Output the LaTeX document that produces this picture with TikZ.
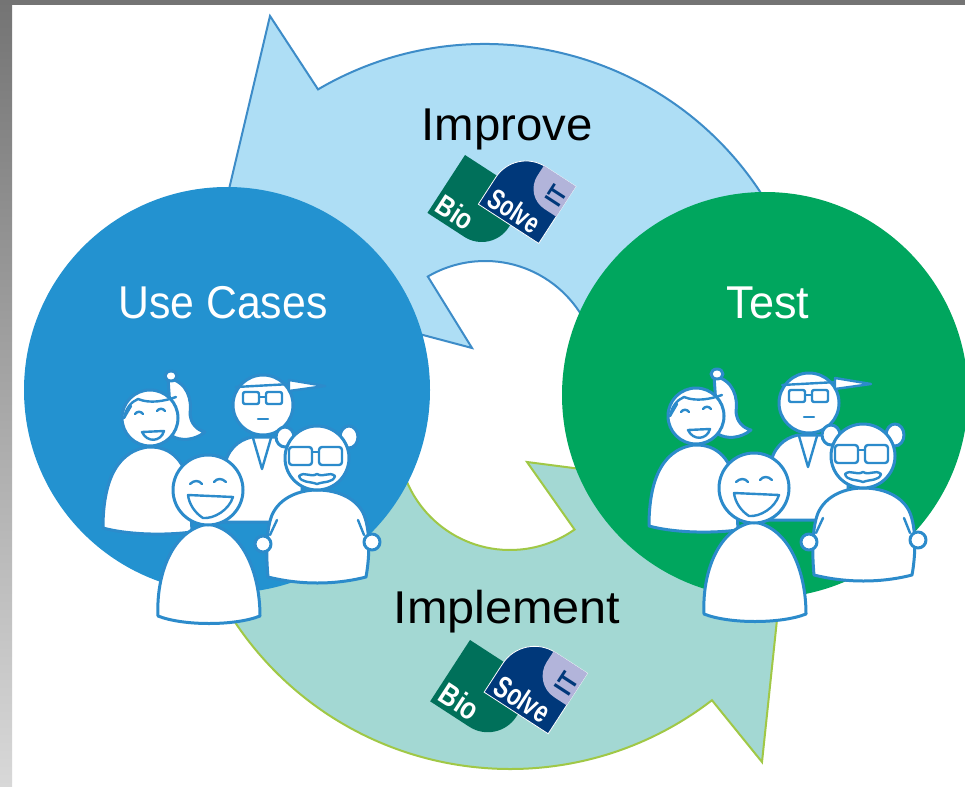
\documentclass[tikz,border=0pt]{standalone}
\usepackage{fontspec}
\setmainfont{Liberation Sans}
\usetikzlibrary{calc}

\definecolor{frameDark}{HTML}{747474}
\definecolor{frameMid}{HTML}{C4C4C4}
\definecolor{frameLight}{HTML}{D8D8D8}
\definecolor{improveFill}{HTML}{AEDEF5}
\definecolor{improveLine}{HTML}{3D8CC8}
\definecolor{implementFill}{HTML}{A3D8D3}
\definecolor{implementLine}{HTML}{A0C846}
\definecolor{useBlue}{HTML}{2392D0}
\definecolor{testGreen}{HTML}{00A65E}
\definecolor{peopleLine}{HTML}{2C8BCB}
\definecolor{bioGreen}{HTML}{00705A}
\definecolor{solveNavy}{HTML}{00387A}
\definecolor{itLilac}{HTML}{B2B4DA}

\tikzset{
  person/.style={draw=peopleLine, fill=white, line width=3pt, line join=round},
  feature/.style={draw=peopleLine, line width=2.4pt, line cap=round, line join=round},
  cycletext/.style={font=\fontsize{46}{50}\selectfont, inner sep=0pt},
  logotext/.style={text=white, font=\bfseries\fontsize{29}{29}\selectfont, inner sep=0pt},
  improvearrow/.style={fill=improveFill, draw=improveLine, line width=2pt, line join=miter},
  implementarrow/.style={fill=implementFill, draw=implementLine, line width=2pt, line join=miter},
}

% four cartoon people, drawn back to front
\newcommand{\crowd}{%
  % woman with ponytail
  \filldraw[person] (103,528) .. controls (103,490) and (112,452) .. (148,447)
    .. controls (172,446) and (186,462) .. (190,490) -- (192,532)
    .. controls (160,536) and (125,534) .. (103,528) -- cycle;
  \filldraw[person] (168,378) .. controls (188,382) and (192,400) .. (190,414)
    .. controls (191,424) and (197,430) .. (205,432)
    .. controls (194,441) and (180,441) .. (172,436) -- cycle;
  \filldraw[person] (150,418) circle[radius=28];
  \filldraw[person] (171,376) ellipse[x radius=6, y radius=5];
  \draw[feature] (124,418) .. controls (126,408) and (131,402) .. (138,399)
    .. controls (150,404) and (165,401) .. (176,397);
  \draw[feature] (124,418) -- (131,406);
  \draw[feature] (135,414) .. controls (137,411) and (141,411) .. (143,414);
  \draw[feature] (157,411) .. controls (159,408) and (163,408) .. (165,411);
  \filldraw[feature, fill=white] (142,432) -- (164,431) .. controls (161,442) and (147,443) .. (142,432) -- cycle;
  % man with cap and glasses
  \filldraw[person] (222,522) -- (224,470) .. controls (226,450) and (238,440) .. (252,437)
    -- (276,437) .. controls (292,441) and (300,455) .. (302,470) -- (302,522) -- cycle;
  \draw[feature] (253,438) -- (262,469) -- (271,438);
  \filldraw[person] (263,405) circle[radius=30];
  \draw[feature] (236,387) -- (291,384);
  \filldraw[person, line width=2.4pt] (289,380) -- (325,386) -- (289,391) -- cycle;
  \draw[feature, rounded corners=2pt] (243,392) rectangle (259,404);
  \draw[feature, rounded corners=2pt] (266,392) rectangle (282,404);
  \draw[feature] (259,397) -- (266,397);
  \draw[feature] (258,419) -- (268,419);
  % old man with glasses
  \filldraw[person] (268,577) .. controls (266,555) and (266,530) .. (272,515)
    .. controls (280,497) and (300,490) .. (317,490)
    .. controls (340,490) and (358,500) .. (364,515)
    .. controls (370,530) and (370,555) .. (366,577)
    .. controls (335,585) and (300,585) .. (268,577) -- cycle;
  \draw[feature] (277,520) -- (270,535);
  \filldraw[person] (263,544) circle[radius=8];
  \draw[feature] (358,520) -- (364,535);
  \filldraw[person] (372,542) circle[radius=8];
  \filldraw[person] (285,437) ellipse[x radius=9, y radius=10];
  \filldraw[person] (349,437) ellipse[x radius=9, y radius=11];
  \filldraw[person] (317,458) circle[radius=32];
  \draw[feature, rounded corners=3pt] (289,447) rectangle (312,465);
  \draw[feature, rounded corners=3pt] (319,447) rectangle (342,465);
  \draw[feature] (312,452) -- (319,452);
  \filldraw[feature, fill=white] (299,476) .. controls (305,471) and (310,478) .. (317,474)
    .. controls (324,478) and (329,471) .. (335,476)
    .. controls (333,483) and (325,481) .. (317,484)
    .. controls (309,481) and (301,483) .. (299,476) -- cycle;
  % laughing kid in front
  \filldraw[person] (158,616) .. controls (156,575) and (172,530) .. (208,524)
    .. controls (244,530) and (260,575) .. (260,616)
    .. controls (235,626) and (183,626) .. (158,616) -- cycle;
  \filldraw[person] (208,490) circle[radius=35];
  \draw[feature] (190,484) .. controls (194,480) and (199,480) .. (202,484);
  \draw[feature] (214,482) .. controls (217,478) and (222,478) .. (226,482);
  \filldraw[feature, fill=white] (188,495) -- (233,497)
    .. controls (229,510) and (214,519) .. (203,518)
    .. controls (195,513) and (189,504) .. (188,495) -- cycle;
}

% the BioSolveIT mark, in its own upright frame
\newcommand{\biosolveit}{%
  \fill[bioGreen] (0,0) -- (76,0) -- (76,37) arc[start angle=0, end angle=90, radius=32] -- (0,69) -- cycle;
  \filldraw[fill=solveNavy, draw=white, line width=0.8pt] (38,34) -- (38,2)
    arc[start angle=180, end angle=270, radius=36] -- (110,-34) -- (110,34) -- cycle;
  \fill[itLilac] (72,-34) -- (110,-34) -- (110,2) -- (96,2) arc[start angle=90, end angle=180, radius=24] -- cycle;
  \node[logotext, anchor=base west] at (4,64) {\scalebox{0.82}[1]{Bio}};
  \node[logotext, anchor=base west] at (44,30) {\scalebox{0.72}[1]{Solve}};
  \node[inner sep=0pt, text=solveNavy, font=\bfseries\fontsize{25}{25}\selectfont, rotate=90] at (99,-15) {\scalebox{0.85}[1]{IT}};
}

\begin{document}
\begin{tikzpicture}[x=1pt, y=-1pt]
\useasboundingbox (0,0) rectangle (965,786);
\fill[white] (0,0) rectangle (965,786);

% brushed metal frame
\shade[top color=frameDark, middle color=frameMid, bottom color=frameLight] (0,0) rectangle (12,786);
\fill[frameDark] (0,0) rectangle (965,5);

% centres of the two cycle arrows
\coordinate (T) at (485,374);
\coordinate (B) at (510,438);

% Improve arrow (top, running right to left)
\filldraw[improvearrow] ($(T)+(-5:113)$) arc[start angle=-5, end angle=-120.4, radius=113]
  -- (472,348) -- (208,278) -- (270,16) -- ($(T)+(-120.4:330)$)
  arc[start angle=-120.4, end angle=-5, radius=330] -- cycle;

% Implement arrow (bottom, running left to right)
\filldraw[implementarrow] ($(B)+(175:112)$) arc[start angle=175, end angle=54.8, radius=112]
  -- (527,462) -- (790,496) -- (762,762) -- ($(B)+(52.4:331)$)
  arc[start angle=52.4, end angle=175, radius=331] -- cycle;

% the two stage discs
\fill[useBlue] (227,390) circle[radius=203];
\fill[testGreen] (765,395) circle[radius=203];

% labels
\node[cycletext, text=white, anchor=base] (usecases) at (223,318) {\scalebox{0.93}[1]{Use Cases}};
\node[cycletext, text=white, anchor=base] (test) at (768,318) {\scalebox{0.98}[1]{Test}};
\node[cycletext, anchor=base] (improve) at (507,141) {\scalebox{1.03}[1]{Improve}};
\node[cycletext, anchor=base] (implement) at (507,623) {\scalebox{1.057}[1]{Implement}};

% logos
\begin{scope}[shift={(465,155)}, rotate=-33, transform shape]
  \biosolveit
\end{scope}
\begin{scope}[shift={(470,640)}, rotate=-33, scale=1.06, transform shape]
  \biosolveit
\end{scope}

% people groups
\begin{scope}
  \crowd
\end{scope}
\begin{scope}[shift={(546,-2)}]
  \crowd
\end{scope}
\end{tikzpicture}
\end{document}
